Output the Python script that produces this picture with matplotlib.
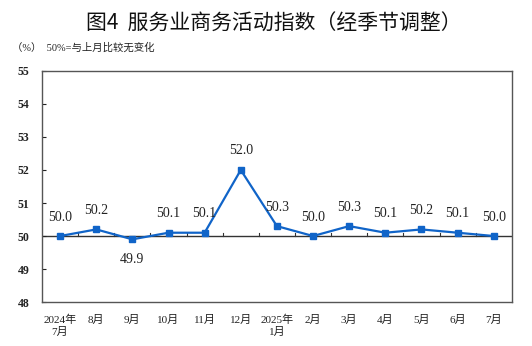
import matplotlib.pyplot as plt

months = ["2024年\n7月", "8月", "9月", "10月", "11月", "12月", "2025年\n1月",
          "2月", "3月", "4月", "5月", "6月", "7月"]
index_values = [50.0, 50.2, 49.9, 50.1, 50.1, 52.0, 50.3, 50.0, 50.3, 50.1, 50.2, 50.1, 50.0]
y_ticks = [48, 49, 50, 51, 52, 53, 54, 55]

serif = ['Liberation Serif', 'Noto Sans CJK SC']
sans = ['Noto Sans CJK SC', 'DejaVu Sans']

fig = plt.figure(figsize=(5.32, 3.46), dpi=100)
ax = fig.add_axes([0.079, 0.127, 0.883, 0.668])

x = list(range(len(index_values)))
ax.axhline(50, color='#333333', lw=1.0, zorder=1)
# small ticks on the 50 line between months
for b in range(1, len(x)):
    ax.plot([b - 0.5, b - 0.5], [50, 50.08], color='#333333', lw=0.8, zorder=1)

ax.plot(x, index_values, color='#1064c8', lw=1.6, marker='s', ms=4.5, zorder=3)

for i, v in enumerate(index_values):
    if v < 50:
        ax.annotate(f"{v:.1f}", (i, v), xytext=(0, -10), textcoords='offset points',
                    ha='center', va='top', fontsize=10, family=serif, color='#222222')
    else:
        ax.annotate(f"{v:.1f}", (i, v), xytext=(0, 9), textcoords='offset points',
                    ha='center', va='bottom', fontsize=10, family=serif, color='#222222')

ax.set_xlim(-0.5, len(x) - 0.5)
ax.set_ylim(48, 55)
ax.set_yticks(y_ticks)
ax.set_yticklabels([str(t) for t in y_ticks], family=serif, fontsize=8.5, fontweight='bold')
ax.tick_params(axis='y', direction='in', length=3, pad=9, colors='#222222')
ax.set_xticks(x)
ax.set_xticklabels(months, family=serif, fontsize=8, linespacing=1.3)
ax.tick_params(axis='x', length=0, pad=9, colors='#222222')
for s in ax.spines.values():
    s.set_color('#555555')
    s.set_linewidth(1.0)

fig.text(0.514, 0.932, "图4  服务业商务活动指数（经季节调整）", ha='center', va='center',
         fontsize=15, family=sans, color='#111111')
fig.text(0.022, 0.862, "（%）  50%=与上月比较无变化", ha='left', va='center',
         fontsize=7.5, family=serif, color='#222222')

fig.savefig("out.png", dpi=100)
